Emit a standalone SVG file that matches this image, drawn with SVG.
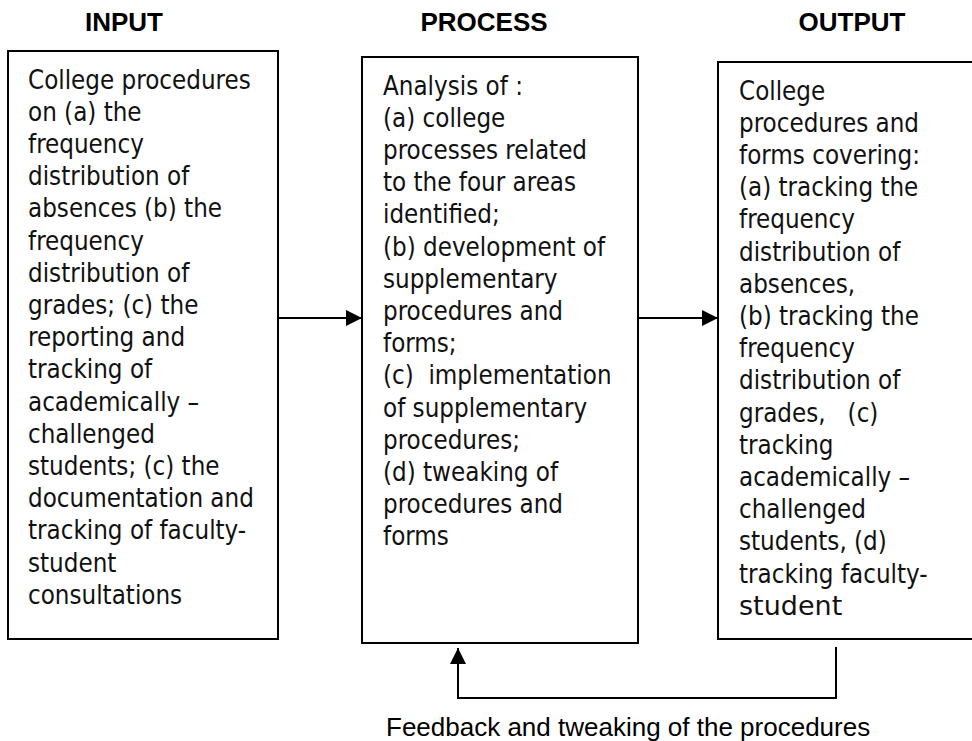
<svg xmlns="http://www.w3.org/2000/svg" width="972" height="741" viewBox="0 0 972 741">
  <style>
    .box { fill: #ffffff; stroke: #000000; stroke-width: 2; }
    .head { font-family: "Liberation Sans", Arial, sans-serif; font-weight: bold; font-size: 26px; fill: #000; text-anchor: middle; }
    .body { font-family: "DejaVu Sans Condensed", "DejaVu Sans", sans-serif; font-size: 25.7px; fill: #111; white-space: pre; }
    .big { font-family: "DejaVu Sans", sans-serif; font-size: 27px; }
    .note { font-family: "Liberation Sans", Arial, sans-serif; font-size: 26px; fill: #000; }
    .conn { fill: none; stroke: #000000; stroke-width: 2; }
  </style>
  <defs>
    <marker id="arrow" viewBox="0 0 16 16" refX="16" refY="8" markerWidth="16" markerHeight="16" markerUnits="userSpaceOnUse" orient="auto">
      <path d="M0,0 L16,8 L0,16 Z" fill="#000000"/>
    </marker>
  </defs>

  <rect width="972" height="741" fill="#ffffff"/>

  <!-- column headings -->
  <text class="head" x="124" y="31">INPUT</text>
  <text class="head" x="484" y="31">PROCESS</text>
  <text class="head" x="852" y="31">OUTPUT</text>

  <!-- input stage -->
  <g id="input">
    <rect class="box" x="8" y="51" width="270" height="588"/>
    <text class="body" x="28" y="88.5">
      <tspan x="28" dy="0">College procedures</tspan>
      <tspan x="28" dy="32.2">on (a) the</tspan>
      <tspan x="28" dy="32.2">frequency</tspan>
      <tspan x="28" dy="32.2">distribution of</tspan>
      <tspan x="28" dy="32.2">absences (b) the</tspan>
      <tspan x="28" dy="32.2">frequency</tspan>
      <tspan x="28" dy="32.2">distribution of</tspan>
      <tspan x="28" dy="32.2">grades; (c) the</tspan>
      <tspan x="28" dy="32.2">reporting and</tspan>
      <tspan x="28" dy="32.2">tracking of</tspan>
      <tspan x="28" dy="32.2">academically –</tspan>
      <tspan x="28" dy="32.2">challenged</tspan>
      <tspan x="28" dy="32.2">students; (c) the</tspan>
      <tspan x="28" dy="32.2">documentation and</tspan>
      <tspan x="28" dy="32.2">tracking of faculty-</tspan>
      <tspan x="28" dy="32.2">student</tspan>
      <tspan x="28" dy="32.2">consultations</tspan>
    </text>
  </g>

  <!-- process stage -->
  <g id="process">
    <rect class="box" x="362" y="57" width="276" height="586"/>
    <text class="body" x="383" y="94.5">
      <tspan x="383" dy="0">Analysis of :</tspan>
      <tspan x="383" dy="32.2">(a) college</tspan>
      <tspan x="383" dy="32.2">processes related</tspan>
      <tspan x="383" dy="32.2">to the four areas</tspan>
      <tspan x="383" dy="32.2">identified;</tspan>
      <tspan x="383" dy="32.2">(b) development of</tspan>
      <tspan x="383" dy="32.2">supplementary</tspan>
      <tspan x="383" dy="32.2">procedures and</tspan>
      <tspan x="383" dy="32.2">forms;</tspan>
      <tspan x="383" dy="32.2">(c)  implementation</tspan>
      <tspan x="383" dy="32.2">of supplementary</tspan>
      <tspan x="383" dy="32.2">procedures;</tspan>
      <tspan x="383" dy="32.2">(d) tweaking of</tspan>
      <tspan x="383" dy="32.2">procedures and</tspan>
      <tspan x="383" dy="32.2">forms</tspan>
    </text>
  </g>

  <!-- output stage -->
  <g id="output">
    <rect class="box" x="718" y="62" width="262" height="577"/>
    <text class="body" x="739" y="99.5">
      <tspan x="739" dy="0">College</tspan>
      <tspan x="739" dy="32.2">procedures and</tspan>
      <tspan x="739" dy="32.2">forms covering:</tspan>
      <tspan x="739" dy="32.2">(a) tracking the</tspan>
      <tspan x="739" dy="32.2">frequency</tspan>
      <tspan x="739" dy="32.2">distribution of</tspan>
      <tspan x="739" dy="32.2">absences,</tspan>
      <tspan x="739" dy="32.2">(b) tracking the</tspan>
      <tspan x="739" dy="32.2">frequency</tspan>
      <tspan x="739" dy="32.2">distribution of</tspan>
      <tspan x="739" dy="32.2">grades,   (c)</tspan>
      <tspan x="739" dy="32.2">tracking</tspan>
      <tspan x="739" dy="32.2">academically –</tspan>
      <tspan x="739" dy="32.2">challenged</tspan>
      <tspan x="739" dy="32.2">students, (d)</tspan>
      <tspan x="739" dy="32.2">tracking faculty-</tspan>
      <tspan x="739" dy="32.2" class="big">student</tspan>
    </text>
  </g>

  <!-- connectors -->
  <g id="connectors">
    <path class="conn" d="M278,318 H362" marker-end="url(#arrow)"/>
    <path class="conn" d="M638,318 H718" marker-end="url(#arrow)"/>
    <path class="conn" d="M836,647 V698 H458 V648" marker-end="url(#arrow)"/>
  </g>

  <text class="note" x="386" y="736">Feedback and tweaking of the procedures</text>
</svg>
